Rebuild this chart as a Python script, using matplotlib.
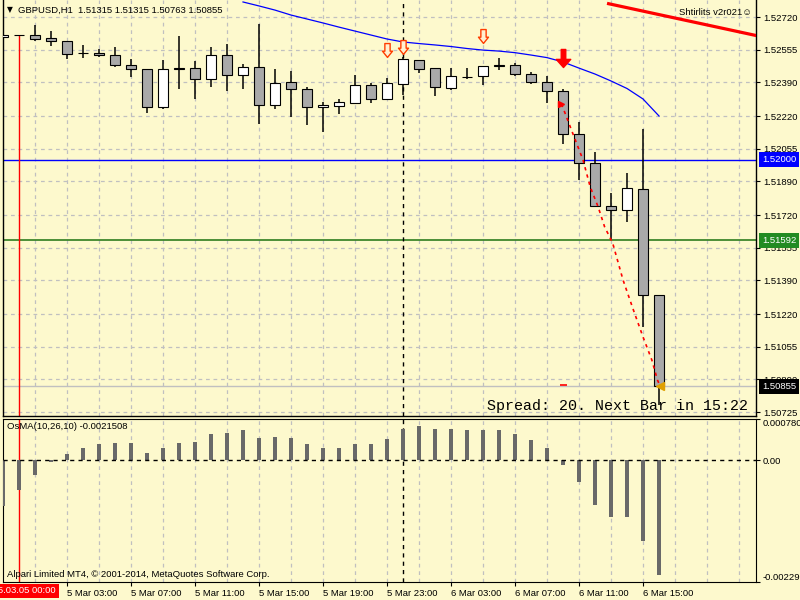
import numpy as np
import matplotlib
matplotlib.use('Agg')
import matplotlib.pyplot as plt
import matplotlib.transforms as mtransforms
from matplotlib.path import Path

plt.rcParams['font.family'] = ['Liberation Sans', 'DejaVu Sans']

# GBPUSD H1 bars, 4 Mar 23:00 .. 6 Mar 16:00
opens = [1.52619, 1.52628, 1.52628, 1.52612, 1.52599, 1.52537, 1.52537, 1.52527, 1.52476, 1.52456,
         1.52264, 1.52461, 1.52461, 1.52405, 1.52527, 1.52426, 1.52466, 1.52274, 1.52390, 1.52355,
         1.52264, 1.52269, 1.52287, 1.52375, 1.52304, 1.52380, 1.52501, 1.52461, 1.52360, 1.52416,
         1.52421, 1.52478, 1.52476, 1.52431, 1.52390, 1.52345, 1.52128, 1.51981, 1.51764, 1.51744,
         1.51850, 1.51315]
highs = [1.52663, 1.52629, 1.52680, 1.52649, 1.52600, 1.52579, 1.52558, 1.52567, 1.52508, 1.52456,
         1.52503, 1.52624, 1.52499, 1.52567, 1.52582, 1.52481, 1.52685, 1.52456, 1.52446, 1.52365,
         1.52289, 1.52306, 1.52427, 1.52385, 1.52410, 1.52518, 1.52501, 1.52461, 1.52461, 1.52461,
         1.52471, 1.52511, 1.52486, 1.52441, 1.52421, 1.52355, 1.52188, 1.52037, 1.51833, 1.51932,
         1.52154, 1.51315]
lows = [1.52579, 1.52627, 1.52597, 1.52575, 1.52509, 1.52514, 1.52516, 1.52466, 1.52419, 1.52237,
        1.52254, 1.52358, 1.52307, 1.52368, 1.52348, 1.52358, 1.52178, 1.52254, 1.52217, 1.52173,
        1.52141, 1.52232, 1.52287, 1.52287, 1.52299, 1.52326, 1.52439, 1.52323, 1.52350, 1.52405,
        1.52375, 1.52451, 1.52421, 1.52380, 1.52288, 1.52080, 1.51898, 1.51764, 1.51597, 1.51686,
        1.51156, 1.50763]
closes = [1.52629, 1.52628, 1.52607, 1.52597, 1.52535, 1.52537, 1.52527, 1.52476, 1.52456, 1.52264,
          1.52456, 1.52457, 1.52405, 1.52527, 1.52426, 1.52466, 1.52274, 1.52385, 1.52355, 1.52264,
          1.52274, 1.52289, 1.52375, 1.52304, 1.52385, 1.52506, 1.52456, 1.52365, 1.52421, 1.52416,
          1.52471, 1.52474, 1.52431, 1.52390, 1.52345, 1.52128, 1.51981, 1.51764, 1.51744, 1.51855,
          1.51315, 1.50855]

# OsMA(10,26,10) histogram, x 1e-4
osma = [-8.65, -5.62, -2.78, -0.25, 1.14, 2.27, 3.08, 3.22, 3.22, 1.32,
        2.27, 3.22, 3.41, 4.92, 5.11, 5.68, 4.16, 4.35, 4.16, 3.03,
        2.27, 2.27, 3.03, 3.03, 3.97, 5.87, 6.43, 5.87, 5.87, 5.68,
        5.68, 5.68, 4.92, 3.78, 2.27, -0.89, -4.11, -8.32, -10.73, -10.73,
        -15.27, -21.51]

# moving average (blue), from bar 15
ma_first = 15
ma_values = [1.52796, 1.52776, 1.52755, 1.52730, 1.52710, 1.52690, 1.52669, 1.52649, 1.52629,
             1.52609, 1.52594, 1.52586, 1.52579, 1.52571, 1.52561, 1.52553, 1.52548, 1.52540,
             1.52528, 1.52515, 1.52493, 1.52462, 1.52432, 1.52397, 1.52359, 1.52306, 1.52220]

# red dotted path (bar index, price)
path_bars = [34.9, 35.1, 35.6, 36.25, 36.7, 37.2, 37.6, 38.1, 38.75, 39.4, 40.0, 40.55, 40.9, 41.06]
path_prices = [1.52281, 1.52240, 1.52134, 1.51998, 1.51862, 1.51760, 1.51660, 1.51579, 1.51392,
               1.51240, 1.51104, 1.50988, 1.50887, 1.50857]

# red trend line
trend_bars = [37.75, 47.1]
trend_prices = [1.52789, 1.52626]

# signal arrows
signal_bars = [24, 25, 30]
signal_prices = [1.52556, 1.52571, 1.52624]
sell_bar = 35
sell_price = 1.52515

blue_level = 1.52000
green_level = 1.51592
bid = 1.50855
red_mark = 1.50861

price_ticks = [1.52720, 1.52555, 1.52390, 1.52220, 1.52055, 1.51890, 1.51720,
               1.51555, 1.51390, 1.51220, 1.51055, 1.50890, 1.50725]
time_bars = [4, 8, 12, 16, 20, 24, 28, 32, 36, 40]
time_labels = ['5 Mar 03:00', '5 Mar 07:00', '5 Mar 11:00', '5 Mar 15:00', '5 Mar 19:00',
               '5 Mar 23:00', '6 Mar 03:00', '6 Mar 07:00', '6 Mar 11:00', '6 Mar 15:00']
osma_ticks = [0.00078, 0.0, -0.00229]
osma_tick_labels = ['0.000780', '0.00', '-0.002290']

bg = '#fdf9cd'
grid_color = '#c0c0c0'
fs = 6.8

fig = plt.figure(figsize=(8, 6), dpi=100, facecolor=bg)
ax = fig.add_axes([3 / 800, 184 / 600, 753 / 800, 416 / 600], facecolor=bg)
ax2 = fig.add_axes([3 / 800, 18 / 600, 753 / 800, 163 / 600], facecolor=bg)

x = np.arange(len(opens))
o = np.array(opens)
h = np.array(highs)
l = np.array(lows)
c = np.array(closes)
up = c >= o

xmax = 47.06
ax.set_xlim(0, xmax)
ax.set_ylim(1.50705, 1.52806)

# candles
ax.vlines(x, l, h, color='black', lw=1.1, zorder=3)
ax.bar(x, np.abs(c - o), bottom=np.minimum(o, c), width=0.65,
       color=np.where(up, 'white', '#a9a9a9'), edgecolor='black', linewidth=0.8, zorder=4)

# lines
ax.plot(np.arange(ma_first, ma_first + len(ma_values)), ma_values, color='#0000ff', lw=0.9, zorder=5)
ax.axhline(blue_level, color='#0000ff', lw=1.0, zorder=2)
ax.axhline(green_level, color='#2e7d1e', lw=1.2, zorder=2)
ax.axhline(bid, color=grid_color, lw=1.0, zorder=2)
ax.plot(trend_bars, trend_prices, color='red', lw=2.3, zorder=5, solid_capstyle='butt')
ax.vlines(1, 1.50705, closes[1], color='red', lw=1.0, zorder=2)
ax.axvline(25, color='black', ls=(0, (3, 3)), lw=1.0, zorder=2)
ax.hlines(red_mark, 34.8, 35.25, color='red', lw=1.2, zorder=5)

ax.plot(path_bars, path_prices, color='red', lw=1.2, ls=(0, (2, 2.5)), zorder=6)
ax.plot(path_bars[0], path_prices[0], marker='>', color='red', ms=5, zorder=7)
ax.plot(path_bars[-1], path_prices[-1], marker='<', color='#e0a000', ms=6, zorder=7)

# arrows
hollow = Path([(-0.38, 1), (0.38, 1), (0.38, -0.1), (0.72, -0.1), (0, -1),
               (-0.72, -0.1), (-0.38, -0.1), (-0.38, 1), (0, 0)], closed=True)
solid = Path([(-0.25, 1), (0.25, 1), (0.25, -0.1), (0.8, -0.1), (0, -1),
              (-0.8, -0.1), (-0.25, -0.1), (-0.25, 1), (0, 0)], closed=True)
ax.plot(signal_bars, signal_prices, ls='none', marker=hollow, ms=10,
        mfc='#fff0d0', mec='#ff3c00', mew=1.0, zorder=7)
ax.plot([sell_bar], [sell_price], ls='none', marker=solid, ms=13, color='red', zorder=7)

# axes styling
ax.set_xticks(np.arange(2, 47, 2))
ax.set_yticks(price_ticks)
ax.set_yticklabels(['%.5f' % v for v in price_ticks], fontsize=fs)
ax.yaxis.tick_right()
ax.tick_params(axis='y', length=3, width=0.8, pad=2)
ax.tick_params(axis='x', length=0, labelbottom=False)
ax.grid(True, color=grid_color, ls=(0, (3, 3)), lw=0.9)
ax.set_axisbelow(True)
ax.spines['top'].set_visible(False)
for s in ['left', 'right', 'bottom']:
    ax.spines[s].set_linewidth(1.0)

trans = mtransforms.blended_transform_factory(ax.transAxes, ax.transData)
for val, col in [(blue_level, '#0000ff'), (green_level, '#228b22'), (bid, 'black')]:
    ax.text(1.008, val, '%.5f' % val, transform=trans, color='white', fontsize=fs,
            va='center', ha='left', clip_on=False, zorder=10,
            bbox=dict(boxstyle='square,pad=0.3', fc=col, ec='none'))

ax.text(0.0093, 0.976, '\u25bc', transform=ax.transAxes, fontsize=5.5, va='center', ha='center',
        family='DejaVu Sans')
ax.text(0.0199, 0.976, 'GBPUSD,H1  1.51315 1.51315 1.50763 1.50855', transform=ax.transAxes,
        fontsize=fs, va='center', ha='left')
ax.text(0.9947, 0.971, 'Shtirlits v2r021\u263a', transform=ax.transAxes,
        fontsize=fs, va='center', ha='right')
ax.text(0.9894, 0.024, 'Spread: 20. Next Bar in 15:22', transform=ax.transAxes,
        fontsize=10.8, va='center', ha='right', family='Liberation Mono')

# indicator
ax2.set_xlim(0, xmax)
ax2.set_ylim(-0.00229, 0.00078)
ax2.bar(x, np.array(osma) * 1e-4, width=0.3, color='#696969', zorder=3)
ax2.axhline(0, color='black', ls=(0, (3, 3)), lw=1.0, zorder=4)
ax2.axvline(1, color='red', lw=1.0, zorder=2)
ax2.axvline(25, color='black', ls=(0, (3, 3)), lw=1.0, zorder=2)

ax2.set_xticks(time_bars)
ax2.set_xticklabels(time_labels, fontsize=fs, ha='left')
ax2.set_xticks([b for b in range(2, 47, 2) if b not in time_bars], minor=True)
ax2.tick_params(axis='x', which='major', length=3, width=0.8, pad=2)
ax2.tick_params(axis='x', which='minor', length=0)
ax2.grid(True, axis='x', which='both', color=grid_color, ls=(0, (3, 3)), lw=0.9)
ax2.set_axisbelow(True)
ax2.yaxis.tick_right()
ax2.set_yticks(osma_ticks)
ax2.set_yticklabels(osma_tick_labels, fontsize=fs)
ax2.tick_params(axis='y', length=3, width=0.8, pad=2)
ylabels = ax2.get_yticklabels()
ylabels[0].set_va('top')
ylabels[2].set_va('bottom')

ax2.text(0.0053, 0.951, 'OsMA(10,26,10) -0.0021508', transform=ax2.transAxes,
         fontsize=fs, va='center', ha='left')
ax2.text(0.0053, 0.043, 'Alpari Limited MT4, \u00a9 2001-2014, MetaQuotes Software Corp.',
         transform=ax2.transAxes, fontsize=fs, va='center', ha='left')

trans2 = mtransforms.blended_transform_factory(ax2.transData, ax2.transAxes)
ax2.text(1, -0.055, '2015.03.05 00:00', transform=trans2, color='white', fontsize=fs,
         va='center', ha='center', clip_on=False, zorder=10,
         bbox=dict(boxstyle='square,pad=0.3', fc='#ff0000', ec='none'))

fig.savefig('out.png', dpi=100, facecolor=bg)
